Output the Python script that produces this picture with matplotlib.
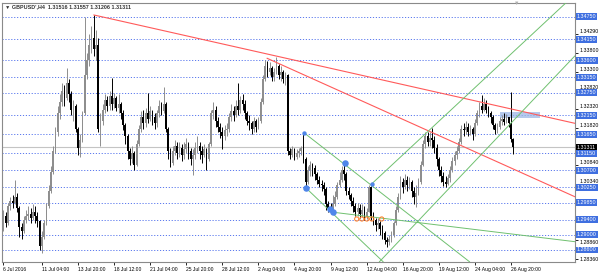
import matplotlib
matplotlib.use('Agg')
import matplotlib.pyplot as plt

plt.rcParams['font.family'] = ['Liberation Sans', 'DejaVu Sans']

# ---------------- data (prices in pips above BASE) ----------------
BASE = 1.2800
PIP = 0.0001
first_open_pips = 140
close_pips = [150,130,175,190,185,200,170,120,110,140,150,155,145,160,150,135,70,95,
              130,175,215,265,320,370,420,
              450,480,460,500,470,430,440,
              380,330,350,420,
              520,560,600,620,590,600,
              380,400,
              430,455,440,465,445,460,435,445,420,390,
              360,320,300,315,285,340,
              380,410,395,420,405,425,410,395,420,440,425,445,380,320,290,
              320,335,315,330,310,325,340,320,300,310,330,335,320,
              310,325,300,340,420,430,400,
              385,370,360,375,380,
              410,425,415,440,430,
              455,445,420,
              400,395,380,400,385,400,
              450,510,
              545,530,540,
              515,530,545,520,530,510,520,
              320,
              310,325,305,315,320,330,
              300,240,
              270,285,275,260,
              245,235,230,220,
              180,170,165,
              180,200,
              230,245,270,260,215,205,
              190,175,160,170,155,165,150,160,
              225,150,
              140,125,130,115,105,
              85,80,90,100,
              130,165,200,
              240,225,245,230,240,
              215,200,210,240,
              285,340,360,
              345,355,350,330,300,
              270,255,
              240,235,250,270,
              295,310,320,345,
              380,375,
              385,370,380,365,395,
              420,440,430,445,430,
              420,410,
              390,375,385,
              400,405,398,410,
              395,352,331]
high_pips = [165,160,185,200,205,244,210,175,130,150,165,175,170,180,175,160,140,110,
             140,185,230,280,335,385,440,
             470,500,495,540,510,480,455,
             445,385,365,425,
             674,580,630,650,679,640,
             620,420,
             445,470,465,480,513,475,465,470,450,430,
             395,365,330,335,320,350,
             390,425,430,435,474,440,430,420,430,455,450,490,450,385,330,
             335,350,345,345,340,345,355,345,330,325,345,360,345,
             335,340,330,345,430,450,440,
             410,395,385,390,395,
             420,445,440,455,500,
             465,470,455,
             425,415,400,410,405,410,
             460,520,
             561,558,555,
             545,540,569,550,545,535,530,
             525,
             330,335,330,325,330,335,
             368,305,
             280,295,290,285,
             265,255,245,240,
             225,190,185,
             205,215,
             240,265,280,289,265,225,
             210,200,185,185,180,180,175,170,
             231,228,
             160,145,145,135,125,
             110,95,100,110,
             135,175,210,
             255,250,260,255,252,
             245,225,230,250,
             295,350,372,
             370,370,381,360,340,
             305,280,
             265,255,260,280,
             305,320,335,355,
             390,395,
             400,395,390,385,405,
             430,450,469,460,455,
             440,425,
             415,395,395,
             410,415,420,418,
             410,476,356]
low_pips = [110,120,125,165,170,180,160,95,90,105,130,140,130,140,130,120,60,52,
            90,125,170,210,260,315,360,
            405,440,440,455,450,415,400,
            370,310,305,345,
            415,510,545,580,570,560,
            370,335,
            390,420,425,430,430,435,425,420,405,375,
            340,300,285,290,271,280,
            335,370,380,385,395,400,390,380,385,410,415,420,370,300,279,
            285,310,300,305,295,300,315,300,285,258,300,315,300,
            290,305,272,295,335,405,385,
            370,355,325,350,360,
            370,400,400,410,415,
            420,430,405,
            390,375,365,370,372,380,
            395,445,
            505,515,520,
            505,505,525,510,505,500,495,
            310,
            300,305,298,300,305,310,
            290,226,
            235,255,255,245,
            235,225,215,205,
            165,160,157,
            157,175,
            195,225,240,245,205,195,
            175,160,150,150,145,148,140,142,
            160,140,
            125,110,115,100,90,
            75,68,72,80,
            95,125,160,
            195,210,220,215,220,
            200,180,174,205,
            235,280,330,
            335,335,330,315,280,
            255,240,
            228,226,230,240,
            265,285,300,315,
            340,360,
            365,360,362,350,360,
            390,410,420,425,420,
            410,395,
            380,365,368,
            380,390,390,395,
            385,345,312]

level_prices = [1.34750, 1.34150, 1.33600, 1.33150, 1.32750, 1.32150, 1.31650,
                1.31150, 1.30700, 1.30250, 1.29850, 1.29400, 1.29000, 1.28600]
tick_prices = [1.34290, 1.33800, 1.33300, 1.32820, 1.32320, 1.31820,
               1.30840, 1.30340, 1.28860, 1.28360]
current_price = 1.31311
title_text = "\u25BC GBPUSD',H4  1.31516 1.31557 1.31206 1.31311"

x_tick_bars = [0, 17, 33, 49, 65, 81, 97, 113, 129, 145, 161, 177, 193, 209, 225]
x_tick_labels = ['6 Jul 2016', '11 Jul 04:00', '13 Jul 20:00', '18 Jul 12:00',
                 '21 Jul 04:00', '25 Jul 20:00', '28 Jul 12:00', '2 Aug 04:00',
                 '4 Aug 20:00', '9 Aug 12:00', '12 Aug 04:00', '16 Aug 20:00',
                 '19 Aug 12:00', '24 Aug 04:00', '26 Aug 20:00']

red_lines = [((40.1, 1.34794), (253.3, 1.31939)),
             ((116.9, 1.33652), (253.3, 1.30004))]
green_lines = [((133.2, 1.31691), (206.6, 1.28290)),
               ((134.0, 1.30241), (168.3, 1.28290)),
               ((146.3, 1.29593), (253.3, 1.28818)),
               ((163.2, 1.30339), (249.3, 1.35110)),
               ((166.7, 1.28290), (253.3, 1.33713))]
big_dots = [(134.0, 1.30241), (151.4, 1.30900), (144.6, 1.29672), (146.3, 1.29593)]
small_dots = [(133.2, 1.31691), (163.2, 1.30339)]
orange_bars = [156.6, 158.9, 161.1, 163.3, 167.7]
orange_price = 1.29416
zone_bars = (220.2, 238.0)
zone_prices = (1.3207, 1.3223)

# ---------------- figure ----------------
W, H = 600, 274
fig = plt.figure(figsize=(W / 100, H / 100), dpi=100)
fig.patch.set_facecolor('white')
L, R, T, B = 2, 575, 2.7, 261.7
ax = fig.add_axes([L / W, (H - B) / H, (R - L) / W, (B - T) / H])
ax.set_xlim(-0.665, 253.4)
ax.set_ylim(1.28290, 1.35118)
for s in ax.spines.values():
    s.set_color('#8a8a8a')
    s.set_linewidth(0.8)

# level lines
for p in level_prices:
    ax.axhline(p, color='#5a78ee', lw=0.7, ls=(0, (1.2, 1.8)), zorder=1)
ax.axhline(current_price, color='#c4c4c4', lw=0.8, zorder=1)

# candles
n = len(close_pips)
opens = [first_open_pips] + close_pips[:-1]
for i in range(n):
    o = BASE + opens[i] * PIP
    c = BASE + close_pips[i] * PIP
    hi = BASE + max(high_pips[i], opens[i], close_pips[i]) * PIP
    lo = BASE + min(low_pips[i], opens[i], close_pips[i]) * PIP
    col = '#8e8e8e' if c >= o else '#000000'
    ax.vlines(i, lo, hi, color=col, lw=0.7, zorder=3)
    bh = max(abs(c - o), 0.00006)
    ax.bar(i, bh, bottom=min(o, c), width=0.75, color=col, lw=0, zorder=3)

# trend lines
for (x0, y0), (x1, y1) in red_lines:
    ax.plot([x0, x1], [y0, y1], color='#ff5a5a', lw=0.8, zorder=4)
for (x0, y0), (x1, y1) in green_lines:
    ax.plot([x0, x1], [y0, y1], color='#6fc06f', lw=0.7, zorder=4)

ax.scatter([d[0] for d in big_dots], [d[1] for d in big_dots], s=22,
           color='#4f86ea', zorder=5, lw=0)
ax.scatter([d[0] for d in small_dots], [d[1] for d in small_dots], s=10,
           color='#4f86ea', zorder=5, lw=0)
ax.scatter(orange_bars, [orange_price] * len(orange_bars), s=9, marker='o',
           facecolor='none', edgecolor='#ff7a20', lw=0.7, zorder=5)
ax.add_patch(plt.Rectangle((zone_bars[0], zone_prices[0]), zone_bars[1] - zone_bars[0],
                           zone_prices[1] - zone_prices[0], color='#9db8e6',
                           alpha=0.75, lw=0, zorder=2))

# axes ticks
ax.yaxis.tick_right()
ax.set_yticks(tick_prices)
ax.set_yticklabels(['%.5f' % t for t in tick_prices])
ax.tick_params(axis='y', length=2, width=0.6, pad=1, labelsize=3.8, colors='black')
for t, lab in zip(tick_prices, ax.get_yticklabels()):
    if t < 1.2890:
        lab.set_va('top' if t > 1.2850 else 'center')
    else:
        lab.set_va('bottom')
ax.set_xticks(x_tick_bars)
ax.set_xticklabels(x_tick_labels, ha='left')
ax.tick_params(axis='x', length=2, width=0.6, pad=2, labelsize=3.6, colors='black')

for p in level_prices:
    ax.text(1.0035, p, '%.5f' % p, transform=ax.get_yaxis_transform(), ha='left',
            va='center', fontsize=3.9, color='white', zorder=6, clip_on=False,
            bbox=dict(boxstyle='square,pad=0.15', fc='#3f6fe0', ec='none'))
ax.text(1.0035, current_price, '%.5f' % current_price, transform=ax.get_yaxis_transform(),
        ha='left', va='center', fontsize=3.9, color='white', zorder=7, clip_on=False,
        bbox=dict(boxstyle='square,pad=0.15', fc='black', ec='none'))

fig.text(5 / W, 1 - 7 / H, title_text, fontsize=3.9, color='#333333', va='center',
         ha='left', fontweight='bold')
fig.text(517 / W, 1 - 3 / H, '\u25BC', fontsize=4, color='#b0b0b0', va='center', ha='center')

fig.savefig('out.png', dpi=100, facecolor='white')
